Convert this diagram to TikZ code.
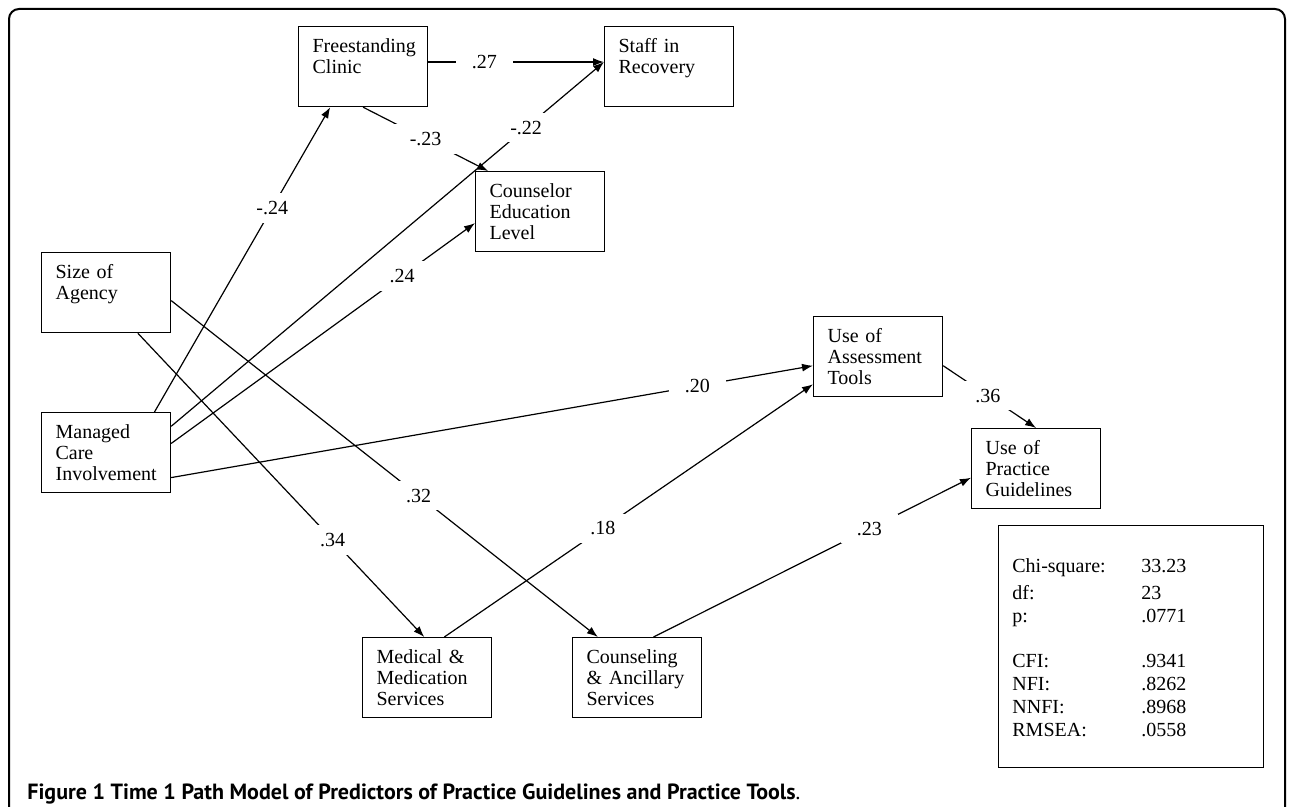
\documentclass[tikz,border=0pt]{standalone}
\usepackage{fontspec}
\setmainfont{Liberation Serif}
\newfontfamily\capfont{PT Sans}
\usetikzlibrary{arrows.meta}
\tikzstyle{var}=[draw,line width=.6pt,anchor=north west,align=left,text width=50.5pt,inner xsep=7pt,inner ysep=0pt,minimum height=40pt]
\tikzstyle{coef}=[fill=white,inner xsep=8pt,inner ysep=4pt]
\tikzstyle{stat}=[anchor=base west,inner sep=0pt]
\tikzstyle{path}=[->,line width=.6pt]
\tikzset{>={Latex[length=5.5pt,width=4pt]}}

\begin{document}
\begin{tikzpicture}[x=.5pt,y=-.5pt,font=\fontsize{10}{10.35}\selectfont]
  \useasboundingbox (0,0) rectangle (1292,807);
  \draw[line width=1pt,rounded corners=5pt] (9,9) rectangle (1285,850);

  % variables
  \node[var] (fc) at (298,26) {Freestanding\\Clinic\\\mbox{}};
  \node[var] (sr) at (604,26) {Staff in\\Recovery\\\mbox{}};
  \node[var] (ce) at (475,171) {Counselor\\Education\\Level};
  \node[var] (sa) at (41,252) {Size of\\Agency\\\mbox{}};
  \node[var] (mc) at (41,412) {Managed\\Care\\Involvement};
  \node[var] (ua) at (813,316) {Use of\\Assessment\\Tools};
  \node[var] (pg) at (971,428) {Use of\\Practice\\Guidelines};
  \node[var] (mm) at (362,637) {Medical \&\\Medication\\Services};
  \node[var] (cs) at (572,637) {Counseling\\\& Ancillary\\Services};

  % fit indices
  \node[draw,line width=.6pt,anchor=north west,minimum width=132.5pt,minimum height=121pt] (fitbox) at (998,525) {};
  \foreach \name/\val/\y [count=\i] in {Chi-square:/33.23/573, df:/23/600, p:/.0771/623, CFI:/.9341/668, NFI:/.8262/691, NNFI:/.8968/714, RMSEA:/.0558/737} {
    \node[stat] (fit\i) at (1012,\y) {\name};
    \node[stat] (val\i) at (1141,\y) {\val};
  }

  % paths
  \draw[path] (fc.4) -- node[coef,pos=.32] {.27} (sr.176) ;
  \draw[path] (fc.south) -- node[coef,pos=.5] {-.23} (ce.142) ;
  \draw[path] (mc.40) -- node[coef,pos=.67] {-.24} (fc.231) ;
  \draw[path] (mc.22) -- node[coef,pos=.82] {-.22} (sr.176) ;
  \draw[path] (mc.8) -- node[coef,pos=.76] {.24} (ce.190) ;
  \draw[path] (mc.339) -- node[coef,pos=.82] {.20} (ua.188) ;
  \draw[path] (sa.308) -- node[coef,pos=.68] {.34} (mm.94) ;
  \draw[path] (sa.353) -- node[coef,pos=.58] {.32} (cs.134) ;
  \draw[path] (mm.67) -- node[coef,pos=.43] {.18} (ua.203) ;
  \draw[path] (cs.68) -- node[coef,pos=.68] {.23} (pg.188) ;
  \draw[path] (ua.352) -- node[coef,pos=.48] {.36} (pg.north) ;

  \node[anchor=base west,inner sep=0pt] (caption) at (27,799) {\capfont\fontsize{11}{13}\selectfont\bfseries Figure 1 Time 1 Path Model of Predictors of Practice Guidelines and Practice Tools\mdseries.};
\end{tikzpicture}
\end{document}
